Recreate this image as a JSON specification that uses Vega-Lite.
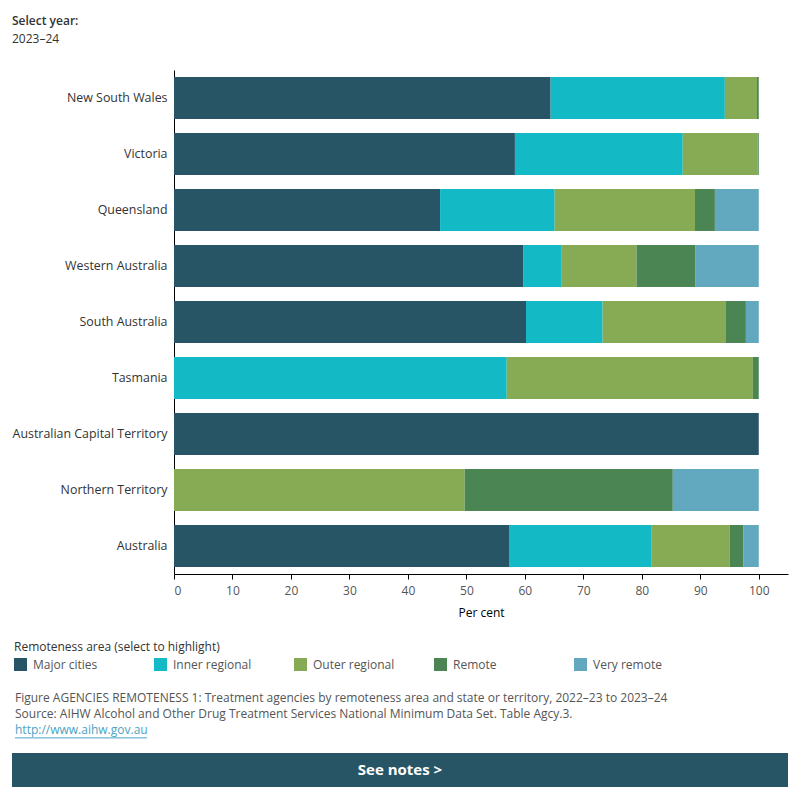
{
  "$schema": "https://vega.github.io/schema/vega-lite/v6.json",
  "padding": {"left": 12, "top": 15, "right": 12, "bottom": 10},
  "title": {"text": "Select year:", "subtitle": "2023–24", "anchor": "start", "frame": "bounds", "font": "Open Sans", "fontSize": 12, "fontWeight": 600, "color": "#333333", "subtitleFont": "Open Sans", "subtitleFontSize": 12, "subtitleColor": "#333333", "subtitlePadding": 6, "offset": 24},
  "config": {"view": {"stroke": null}, "font": "Open Sans"},
  "spacing": 67,
  "vconcat": [
    {
      "width": 614,
      "height": 504,
      "data": {"values": [
        {"state": "New South Wales", "area": "Major cities", "rank": 1, "pct": 64.4},
        {"state": "New South Wales", "area": "Inner regional", "rank": 2, "pct": 29.8},
        {"state": "New South Wales", "area": "Outer regional", "rank": 3, "pct": 5.5},
        {"state": "New South Wales", "area": "Remote", "rank": 4, "pct": 0.3},
        {"state": "New South Wales", "area": "Very remote", "rank": 5, "pct": 0},
        {"state": "Victoria", "area": "Major cities", "rank": 1, "pct": 58.3},
        {"state": "Victoria", "area": "Inner regional", "rank": 2, "pct": 28.7},
        {"state": "Victoria", "area": "Outer regional", "rank": 3, "pct": 12.8},
        {"state": "Victoria", "area": "Remote", "rank": 4, "pct": 0.2},
        {"state": "Victoria", "area": "Very remote", "rank": 5, "pct": 0},
        {"state": "Queensland", "area": "Major cities", "rank": 1, "pct": 45.5},
        {"state": "Queensland", "area": "Inner regional", "rank": 2, "pct": 19.6},
        {"state": "Queensland", "area": "Outer regional", "rank": 3, "pct": 24.0},
        {"state": "Queensland", "area": "Remote", "rank": 4, "pct": 3.4},
        {"state": "Queensland", "area": "Very remote", "rank": 5, "pct": 7.5},
        {"state": "Western Australia", "area": "Major cities", "rank": 1, "pct": 59.7},
        {"state": "Western Australia", "area": "Inner regional", "rank": 2, "pct": 6.5},
        {"state": "Western Australia", "area": "Outer regional", "rank": 3, "pct": 12.9},
        {"state": "Western Australia", "area": "Remote", "rank": 4, "pct": 10.1},
        {"state": "Western Australia", "area": "Very remote", "rank": 5, "pct": 10.8},
        {"state": "South Australia", "area": "Major cities", "rank": 1, "pct": 60.2},
        {"state": "South Australia", "area": "Inner regional", "rank": 2, "pct": 13.1},
        {"state": "South Australia", "area": "Outer regional", "rank": 3, "pct": 21.1},
        {"state": "South Australia", "area": "Remote", "rank": 4, "pct": 3.4},
        {"state": "South Australia", "area": "Very remote", "rank": 5, "pct": 2.2},
        {"state": "Tasmania", "area": "Major cities", "rank": 1, "pct": 0},
        {"state": "Tasmania", "area": "Inner regional", "rank": 2, "pct": 56.9},
        {"state": "Tasmania", "area": "Outer regional", "rank": 3, "pct": 42.1},
        {"state": "Tasmania", "area": "Remote", "rank": 4, "pct": 1.0},
        {"state": "Tasmania", "area": "Very remote", "rank": 5, "pct": 0},
        {"state": "Australian Capital Territory", "area": "Major cities", "rank": 1, "pct": 100},
        {"state": "Australian Capital Territory", "area": "Inner regional", "rank": 2, "pct": 0},
        {"state": "Australian Capital Territory", "area": "Outer regional", "rank": 3, "pct": 0},
        {"state": "Australian Capital Territory", "area": "Remote", "rank": 4, "pct": 0},
        {"state": "Australian Capital Territory", "area": "Very remote", "rank": 5, "pct": 0},
        {"state": "Northern Territory", "area": "Major cities", "rank": 1, "pct": 0},
        {"state": "Northern Territory", "area": "Inner regional", "rank": 2, "pct": 0},
        {"state": "Northern Territory", "area": "Outer regional", "rank": 3, "pct": 49.7},
        {"state": "Northern Territory", "area": "Remote", "rank": 4, "pct": 35.6},
        {"state": "Northern Territory", "area": "Very remote", "rank": 5, "pct": 14.7},
        {"state": "Australia", "area": "Major cities", "rank": 1, "pct": 57.4},
        {"state": "Australia", "area": "Inner regional", "rank": 2, "pct": 24.3},
        {"state": "Australia", "area": "Outer regional", "rank": 3, "pct": 13.3},
        {"state": "Australia", "area": "Remote", "rank": 4, "pct": 2.4},
        {"state": "Australia", "area": "Very remote", "rank": 5, "pct": 2.6}
      ]},
      "mark": {"type": "bar"},
      "encoding": {
        "y": {
          "field": "state", "type": "nominal", "title": null,
          "sort": ["New South Wales", "Victoria", "Queensland", "Western Australia", "South Australia", "Tasmania", "Australian Capital Territory", "Northern Territory", "Australia"],
          "scale": {"paddingInner": 0.25, "paddingOuter": 0.125},
          "axis": {"labelFontSize": 12.4, "labelColor": "#333333", "ticks": false, "domainColor": "#000000", "labelPadding": 7, "labelLimit": 300}
        },
        "x": {
          "field": "pct", "type": "quantitative", "stack": "zero",
          "scale": {"domain": [0, 105], "nice": false},
          "axis": {"values": [0, 10, 20, 30, 40, 50, 60, 70, 80, 90, 100], "grid": false, "domainColor": "#000000", "tickColor": "#000000", "tickSize": 5, "labelColor": "#555555", "labelFontSize": 12, "labelPadding": 6, "title": "Per cent", "titleFontSize": 12, "titleFontWeight": "normal", "titleColor": "#000000", "titlePadding": 11}
        },
        "color": {
          "field": "area", "type": "nominal",
          "scale": {"domain": ["Major cities", "Inner regional", "Outer regional", "Remote", "Very remote"], "range": ["#285566", "#14b9c6", "#87aa55", "#4b8553", "#62a9c0"]},
          "legend": {"title": "Remoteness area (select to highlight)", "orient": "none", "legendX": -160, "legendY": 572, "direction": "horizontal", "columns": 5, "symbolType": "square", "symbolSize": 169, "symbolStrokeWidth": 0, "titleFontSize": 12, "titleFontWeight": "normal", "titleColor": "#333333", "titleLimit": 400, "labelFontSize": 12, "labelColor": "#555555", "columnPadding": 39, "gridAlign": "all", "titlePadding": 4, "labelOffset": 6}
        },
        "order": {"field": "rank", "type": "quantitative"}
      }
    },
    {
      "spacing": 10,
      "vconcat": [
        {
          "width": 614,
          "height": 58,
          "data": {"values": [
            {"line": 1, "kind": "caption", "text": "Figure AGENCIES REMOTENESS 1: Treatment agencies by remoteness area and state or territory, 2022–23 to 2023–24"},
            {"line": 2, "kind": "caption", "text": "Source: AIHW Alcohol and Other Drug Treatment Services National Minimum Data Set. Table Agcy.3."},
            {"line": 3, "kind": "link", "text": "http://www.aihw.gov.au"}
          ]},
          "encoding": {
            "y": {"field": "line", "type": "ordinal", "axis": null, "scale": {"padding": 0.65}}
          },
          "layer": [
            {"transform": [{"filter": "datum.kind == 'caption'"}], "mark": {"type": "text", "align": "left", "baseline": "middle", "fontSize": 12, "color": "#555555"}, "encoding": {"x": {"value": -159}, "text": {"field": "text"}}},
            {"transform": [{"filter": "datum.kind == 'link'"}], "mark": {"type": "text", "align": "left", "baseline": "middle", "fontSize": 12, "color": "#4aa3c2"}, "encoding": {"x": {"value": -159}, "text": {"field": "text"}}},
            {"transform": [{"filter": "datum.kind == 'link'"}], "mark": {"type": "rule", "color": "#4aa3c2", "strokeWidth": 1, "yOffset": 8}, "encoding": {"x": {"value": -159}, "x2": {"value": -27}}}
          ]
        },
        {
          "width": 614,
          "height": 34,
          "data": {"values": [{"label": "See notes >"}]},
          "layer": [
            {"mark": {"type": "rect", "color": "#285566"}, "encoding": {"x": {"value": -162}, "x2": {"value": 614}}},
            {"mark": {"type": "text", "color": "#ffffff", "fontSize": 15, "fontWeight": "bold"}, "encoding": {"x": {"value": 226}, "text": {"field": "label"}}}
          ]
        }
      ]
    }
  ]
}
